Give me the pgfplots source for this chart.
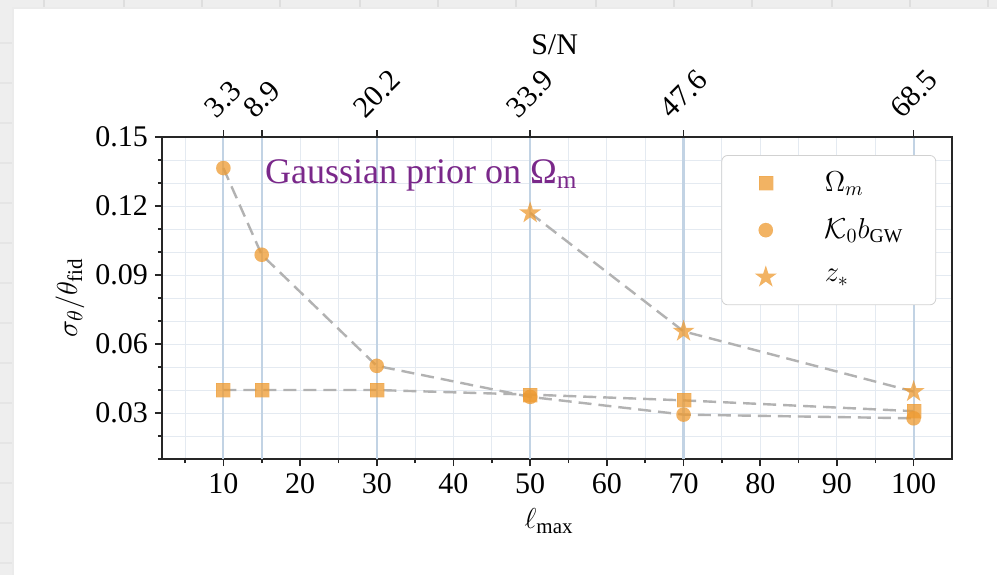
\documentclass[border=0pt]{standalone}
\usepackage{fontspec}
\setmainfont{Liberation Serif}
\usepackage{pgfplots}
\pgfplotsset{compat=1.18}

\definecolor{mk}{RGB}{238,154,48}
\definecolor{dashc}{RGB}{178,178,178}
\definecolor{vline}{RGB}{194,211,228}
\definecolor{gridc}{RGB}{228,234,241}
\definecolor{priorc}{RGB}{122,40,138}
\definecolor{framec}{RGB}{238,238,238}

% filled five-pointed star
\pgfdeclareplotmark{fstar}{%
  \pgfpathmoveto{\pgfpointpolar{90}{\pgfplotmarksize}}%
  \pgfpathlineto{\pgfpointpolar{126}{0.382\pgfplotmarksize}}%
  \pgfpathlineto{\pgfpointpolar{162}{\pgfplotmarksize}}%
  \pgfpathlineto{\pgfpointpolar{198}{0.382\pgfplotmarksize}}%
  \pgfpathlineto{\pgfpointpolar{234}{\pgfplotmarksize}}%
  \pgfpathlineto{\pgfpointpolar{270}{0.382\pgfplotmarksize}}%
  \pgfpathlineto{\pgfpointpolar{306}{\pgfplotmarksize}}%
  \pgfpathlineto{\pgfpointpolar{342}{0.382\pgfplotmarksize}}%
  \pgfpathlineto{\pgfpointpolar{18}{\pgfplotmarksize}}%
  \pgfpathlineto{\pgfpointpolar{54}{0.382\pgfplotmarksize}}%
  \pgfpathclose
  \pgfusepathqfill
}

\pgfplotstableread{
lmax  val
10    0.0400
15    0.0400
30    0.0400
50    0.0380
70    0.0355
100   0.0308
}\omegam
\pgfplotstableread{
lmax  val
10    0.1365
15    0.0988
30    0.0505
50    0.0370
70    0.0293
100   0.0277
}\kappab
\pgfplotstableread{
lmax  val
50    0.1170
70    0.0655
100   0.0393
}\zstar

\pgfplotsset{
  ptmark/.style={only marks, color=mk, mark options={solid, draw=mk, fill=mk, line width=0.01pt, opacity=0.75}},
  dashline/.style={dashc, line width=1.2pt, dash pattern=on 6.5pt off 3.5pt, forget plot},
}

\begin{document}
\begin{tikzpicture}
% page frame
\path[use as bounding box] (0,0) rectangle (498.5pt,287.5pt);
\fill[white] (0,0) rectangle (498.5pt,287.5pt);
\fill[framec] (0,284pt) rectangle (498.5pt,287.5pt);
\fill[framec] (0,0) rectangle (6pt,287.5pt);
\foreach \xx in {22,62,101,140,180,219,258,298,337,376,416,455,494}
  \draw[black!13, line width=0.6pt] (\xx pt,284pt) -- (\xx pt,287.5pt);
\foreach \yy in {6,26,46,66,86,106,126,146,166,186,206,226,246,266}
  \draw[black!10, line width=0.6pt] (0,\yy pt) -- (6pt,\yy pt);
\draw[black!8, line width=1pt] (6.5pt,0) -- (6.5pt,283.5pt) -- (498.5pt,283.5pt);

\begin{axis}[
  at={(81pt,58pt)}, anchor=south west,
  scale only axis, width=395pt, height=161pt,
  xmin=2, xmax=105, ymin=0.01, ymax=0.15,
  xtick={10,20,...,100},
  minor xtick={5,15,25,35,45,55,65,75,85,95},
  ytick={0.03,0.06,0.09,0.12,0.15},
  minor ytick={0.01,0.02,0.04,0.05,0.07,0.08,0.10,0.11,0.13,0.14},
  scaled y ticks=false,
  yticklabel style={/pgf/number format/.cd, fixed, fixed zerofill, precision=2},
  /pgf/number format/assume math mode=true,
  xtick pos=bottom, ytick pos=left,
  tick align=outside,
  major tick length=3.5pt, minor tick length=2pt,
  grid=both,
  major grid style={draw=gridc, line width=0.5pt},
  minor grid style={draw=gridc, line width=0.5pt},
  axis line style={black!85, line width=0.9pt},
  tick style={black!85, line width=0.8pt},
  font=\fontsize{15}{18}\selectfont,
  xlabel={$\ell_{\max}$},
  ylabel={$\sigma_\theta/\theta_{\mathrm{fid}}$},
  xlabel style={at={(axis description cs:0.49,-0.217)}, anchor=base},
  ylabel style={at={(axis description cs:-0.1165,0.5)}, anchor=center},
  legend style={
    at={(0.980,0.944)}, anchor=north east,
    draw=black!18, rounded corners=3pt, fill=white,
    inner xsep=7.5pt, inner ysep=2.1pt,
    font=\fontsize{14}{16}\selectfont,
    cells={anchor=west}, nodes={inner sep=0pt},
    /tikz/column 2/.style={text width=48pt, align=left},
  },
  legend image code/.code={%
    \path[draw=none, fill=none] (-14.5pt,-11.75pt) rectangle (29.5pt,11.75pt);
    \draw[#1] plot coordinates {(0pt,0pt)};
  },
]
% chosen multipole cuts
\pgfplotsinvokeforeach{10,15,30,50,70,100}{
  \addplot[vline, line width=1.1pt, forget plot] coordinates {(#1,0.01) (#1,0.15)};
}
% connecting dashed lines
\addplot[dashline] table[x=lmax,y=val] {\omegam};
\addplot[dashline] table[x=lmax,y=val] {\kappab};
\addplot[dashline] table[x=lmax,y=val] {\zstar};
% markers
\addplot[ptmark, mark=square*, mark size=3.5pt] table[x=lmax,y=val] {\omegam};
\addlegendentry{$\Omega_m$}
\addplot[ptmark, mark=*, mark size=3.6pt] table[x=lmax,y=val] {\kappab};
\addlegendentry{$\mathcal{K}_0 b_{\mathrm{GW}}$}
\addplot[ptmark, mark=fstar, mark size=5.8pt] table[x=lmax,y=val] {\zstar};
\addlegendentry{$z_*$}

\node[anchor=base west, text=priorc, font=\fontsize{18}{21}\selectfont, inner sep=0pt]
  at (axis cs:15.4,0.1297) {Gaussian prior on Ω\textsubscript{m}};
\end{axis}

% upper axis: signal-to-noise at each cut
\begin{axis}[
  at={(81pt,58pt)}, anchor=south west,
  scale only axis, width=395pt, height=161pt,
  xmin=2, xmax=105, ymin=0.01, ymax=0.15,
  axis x line*=top, hide y axis,
  xtick={10,15,30,50,70,100},
  xticklabels={\rotatebox{45}{3.3},\rotatebox{45}{8.9},\rotatebox{45}{20.2},
               \rotatebox{45}{33.9},\rotatebox{45}{47.6},\rotatebox{45}{68.5}},
  minor xtick={},
  tick align=outside, major tick length=3.5pt,
  axis line style={black!85, line width=0.9pt},
  tick style={black!85, line width=0.8pt},
  font=\fontsize{15}{18}\selectfont,
  xticklabel style={anchor=south, inner sep=0pt, yshift=5pt},
  xlabel={S/N},
  xlabel style={at={(axis description cs:0.497,1.2547)}, anchor=base},
]
\addplot[draw=none, forget plot] coordinates {(10,0.1)};
\end{axis}
\end{tikzpicture}
\end{document}
